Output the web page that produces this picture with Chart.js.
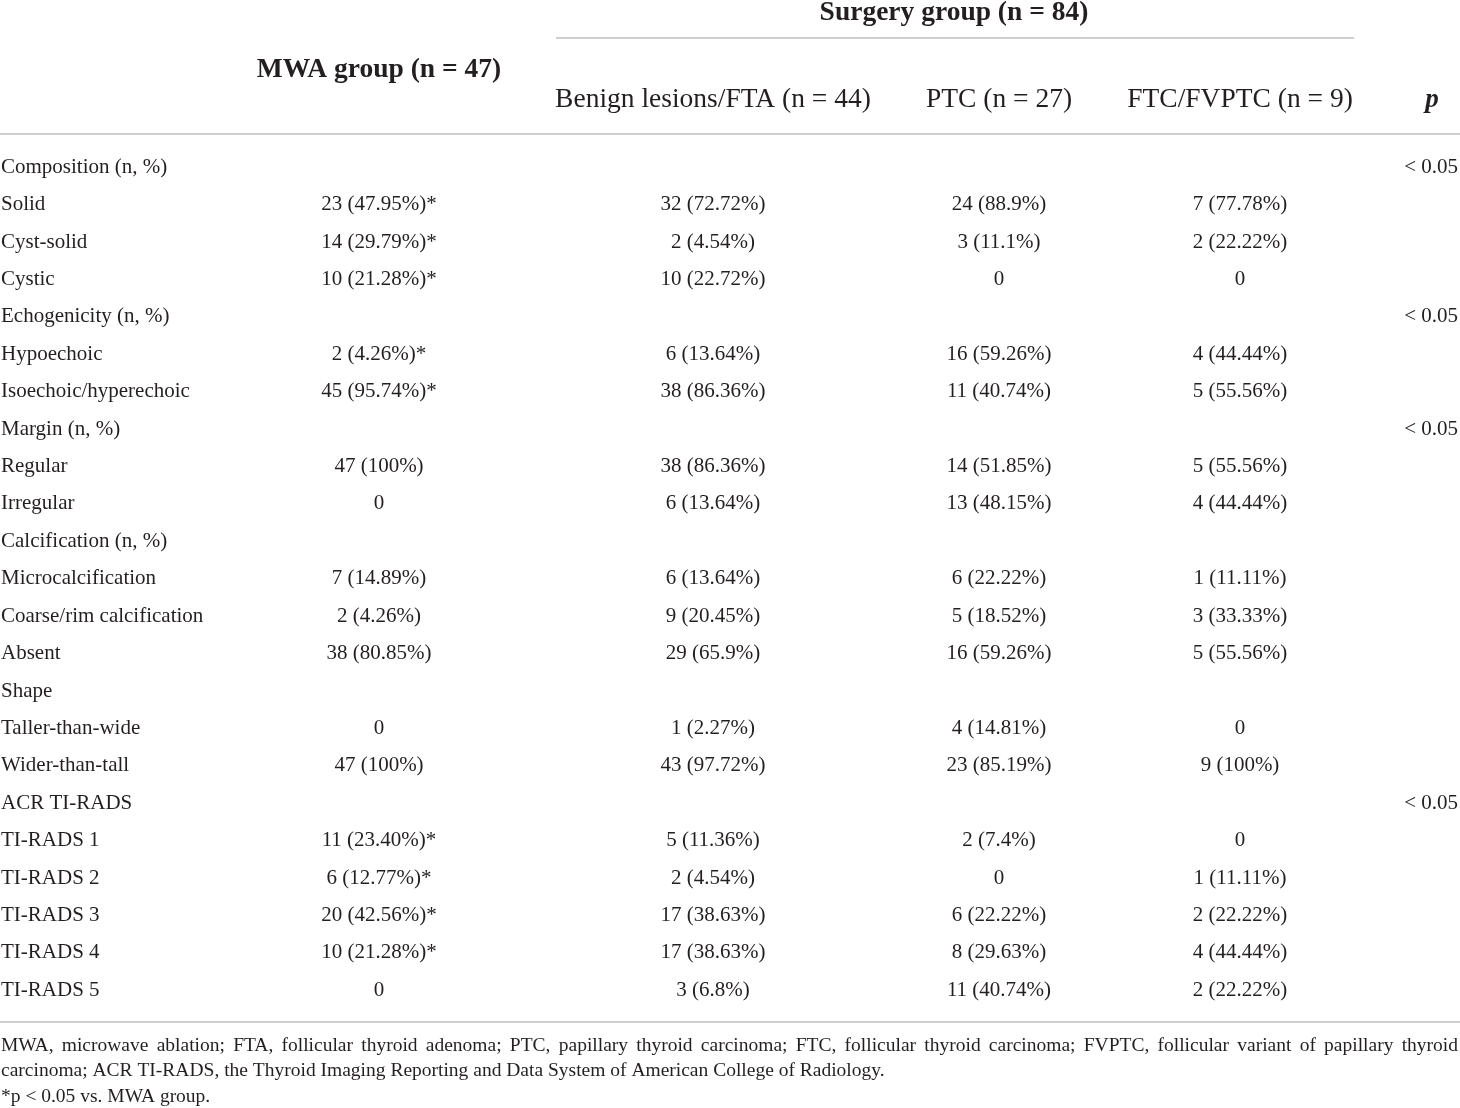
<!DOCTYPE html>
<html lang="en">
<head>
    <meta charset="UTF-8">
    <title>Ultrasound features of nodules</title>
    <script src="https://cdn.jsdelivr.net/npm/chart.js@4.4.1/dist/chart.umd.min.js"></script>
    <style>
        html, body { margin: 0; padding: 0; background: #fff; }
        #wrap { width: 1460px; height: 1108px; position: relative; }
    </style>
</head>
<body>
    <div id="wrap"><canvas id="tabela"></canvas></div>

    <script>
        // Linhas da tabela
        const rowLabels = [
            'Composition (n, %)', 'Solid', 'Cyst-solid', 'Cystic',
            'Echogenicity (n, %)', 'Hypoechoic', 'Isoechoic/hyperechoic',
            'Margin (n, %)', 'Regular', 'Irregular',
            'Calcification (n, %)', 'Microcalcification', 'Coarse/rim calcification', 'Absent',
            'Shape', 'Taller-than-wide', 'Wider-than-tall',
            'ACR TI-RADS', 'TI-RADS 1', 'TI-RADS 2', 'TI-RADS 3', 'TI-RADS 4', 'TI-RADS 5'
        ];
        const mwaValues = [
            '', '23 (47.95%)*', '14 (29.79%)*', '10 (21.28%)*',
            '', '2 (4.26%)*', '45 (95.74%)*',
            '', '47 (100%)', '0',
            '', '7 (14.89%)', '2 (4.26%)', '38 (80.85%)',
            '', '0', '47 (100%)',
            '', '11 (23.40%)*', '6 (12.77%)*', '20 (42.56%)*', '10 (21.28%)*', '0'
        ];
        const benignValues = [
            '', '32 (72.72%)', '2 (4.54%)', '10 (22.72%)',
            '', '6 (13.64%)', '38 (86.36%)',
            '', '38 (86.36%)', '6 (13.64%)',
            '', '6 (13.64%)', '9 (20.45%)', '29 (65.9%)',
            '', '1 (2.27%)', '43 (97.72%)',
            '', '5 (11.36%)', '2 (4.54%)', '17 (38.63%)', '17 (38.63%)', '3 (6.8%)'
        ];
        const ptcValues = [
            '', '24 (88.9%)', '3 (11.1%)', '0',
            '', '16 (59.26%)', '11 (40.74%)',
            '', '14 (51.85%)', '13 (48.15%)',
            '', '6 (22.22%)', '5 (18.52%)', '16 (59.26%)',
            '', '4 (14.81%)', '23 (85.19%)',
            '', '2 (7.4%)', '0', '6 (22.22%)', '8 (29.63%)', '11 (40.74%)'
        ];
        const ftcValues = [
            '', '7 (77.78%)', '2 (22.22%)', '0',
            '', '4 (44.44%)', '5 (55.56%)',
            '', '5 (55.56%)', '4 (44.44%)',
            '', '1 (11.11%)', '3 (33.33%)', '5 (55.56%)',
            '', '0', '9 (100%)',
            '', '0', '1 (11.11%)', '2 (22.22%)', '4 (44.44%)', '2 (22.22%)'
        ];
        const pValues = [
            '< 0.05', '', '', '',
            '< 0.05', '', '',
            '< 0.05', '', '',
            '', '', '', '',
            '', '', '',
            '< 0.05', '', '', '', '', ''
        ];

        // Cabeçalhos
        const groupTitles = ['MWA group (n = 47)', 'Surgery group (n = 84)'];
        const subHeaders = ['Benign lesions/FTA (n = 44)', 'PTC (n = 27)', 'FTC/FVPTC (n = 9)'];
        const pHeader = 'p';
        const footnoteLines = [
            'MWA, microwave ablation; FTA, follicular thyroid adenoma; PTC, papillary thyroid carcinoma; FTC, follicular thyroid carcinoma; FVPTC, follicular variant of papillary thyroid',
            'carcinoma; ACR TI-RADS, the Thyroid Imaging Reporting and Data System of American College of Radiology.',
            '*p < 0.05 vs. MWA group.'
        ];

        // Layout (unidades do eixo x = largura da tabela)
        const colX = [1, 379, 713, 999, 1240, 1458];
        const colAlign = ['left', 'center', 'center', 'center', 'center', 'right'];
        const corTexto = '#231f20';
        const corLinha = '#cfcfcf';
        const fonte = '"Liberation Serif", "DejaVu Serif", serif';

        const colunas = [rowLabels, mwaValues, benignValues, ptcValues, ftcValues, pValues];

        const datasets = colunas.map((textos, c) => ({
            label: 'col' + c,
            textos: textos,
            data: textos.map((t, r) => ({ x: colX[c], y: r })),
            pointRadius: 0,
            pointHoverRadius: 0
        }));

        const justificar = (ctx, texto, x0, x1, y) => {
            const palavras = texto.split(' ');
            const larguras = palavras.map(p => ctx.measureText(p).width);
            const total = larguras.reduce((a, b) => a + b, 0);
            const gap = (x1 - x0 - total) / (palavras.length - 1);
            let x = x0;
            ctx.textAlign = 'left';
            palavras.forEach((p, i) => {
                ctx.fillText(p, x, y);
                x += larguras[i] + gap;
            });
        };

        const tabelaPlugin = {
            id: 'tabela',
            afterDatasetsDraw(chart) {
                const ctx = chart.ctx;
                const xs = chart.scales.x;
                ctx.save();
                ctx.fillStyle = corTexto;
                ctx.textBaseline = 'middle';

                // células
                ctx.font = '21px ' + fonte;
                chart.data.datasets.forEach((ds, c) => {
                    const meta = chart.getDatasetMeta(c);
                    ctx.textAlign = colAlign[c];
                    meta.data.forEach((pt, r) => {
                        if (ds.textos[r]) ctx.fillText(ds.textos[r], pt.x, pt.y);
                    });
                });

                // cabeçalho
                ctx.font = 'bold 27.5px ' + fonte;
                ctx.textAlign = 'center';
                ctx.fillText(groupTitles[0], xs.getPixelForValue(colX[1]), 70);
                ctx.fillText(groupTitles[1], xs.getPixelForValue(954), 13);
                ctx.font = '27.5px ' + fonte;
                subHeaders.forEach((t, i) => {
                    ctx.fillText(t, xs.getPixelForValue(colX[i + 2]), 100);
                });
                ctx.font = 'italic bold 27px ' + fonte;
                ctx.fillText(pHeader, xs.getPixelForValue(1432), 100);

                // linhas horizontais
                ctx.strokeStyle = corLinha;
                ctx.lineWidth = 2;
                ctx.beginPath();
                ctx.moveTo(xs.getPixelForValue(556), 38);
                ctx.lineTo(xs.getPixelForValue(1354), 38);
                ctx.moveTo(0, 134);
                ctx.lineTo(1460, 134);
                ctx.moveTo(0, 1022);
                ctx.lineTo(1460, 1022);
                ctx.stroke();

                // nota de rodapé
                ctx.font = '19.5px ' + fonte;
                justificar(ctx, footnoteLines[0], 1, 1458, 1046);
                ctx.textAlign = 'left';
                ctx.fillText(footnoteLines[1], 1, 1071);
                ctx.fillText(footnoteLines[2], 1, 1097);
                ctx.restore();
            }
        };

        new Chart(document.getElementById('tabela'), {
            type: 'scatter',
            data: { datasets: datasets },
            options: {
                responsive: true,
                maintainAspectRatio: false,
                animation: false,
                events: [],
                layout: { padding: { top: 148.5, bottom: 99, left: 0, right: 0 } },
                scales: {
                    x: { type: 'linear', min: 0, max: 1460, display: false },
                    y: { type: 'linear', min: -0.5, max: 22.5, reverse: true, display: false }
                },
                plugins: {
                    legend: { display: false },
                    tooltip: { enabled: false }
                }
            },
            plugins: [tabelaPlugin]
        });
    </script>
</body>
</html>
